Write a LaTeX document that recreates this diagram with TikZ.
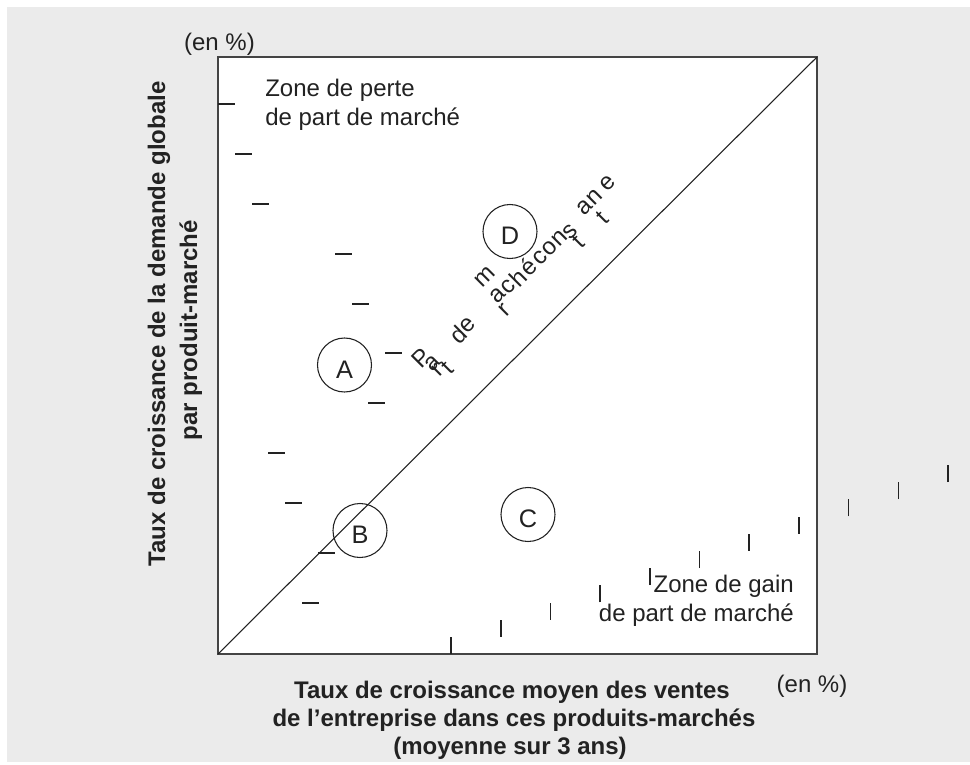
\documentclass[tikz,border=0pt]{standalone}
\usepackage{fontspec}
\setmainfont{Liberation Sans}
\definecolor{panel}{HTML}{EBEBEB}
\definecolor{ink}{HTML}{222222}
\definecolor{boxline}{HTML}{444444}
\begin{document}
\begin{tikzpicture}[x=0.75pt,y=-0.75pt,
  txt/.style={font=\fontsize{18}{21}\selectfont, text=ink, inner sep=0pt},
  boldtxt/.style={font=\fontsize{18}{21}\selectfont\bfseries, text=ink, inner sep=0pt},
  tickmark/.style={draw=ink, line width=1.2pt},
  letter/.style={txt, rotate=45, anchor=center},
  circ/.style={circle, draw=ink, line width=0.8pt, minimum size=40.5pt, inner sep=0pt,
    font=\fontsize{19}{21}\selectfont, text=ink, text height=20pt, text depth=0pt}]
\useasboundingbox (0,0) rectangle (970,764);
\fill[panel] (7,7) rectangle (970,762);
% frame
\coordinate (tl) at (218,57);
\coordinate (br) at (817,654);
\coordinate (bl) at (218,654);
\coordinate (tr) at (817,57);
\draw[fill=white, draw=boxline, line width=1.1pt] (tl) rectangle (br);
\draw[draw=ink, line width=0.8pt] (bl) -- (tr);
% horizontal dashes
\foreach \x/\y in {218/104,235/154,252/204,335/254,352/304,385/353,368/403,268/453,285/503,318/553,302/603}
  \draw[tickmark] (\x,\y) -- ++(17,0);
% vertical ticks
\foreach \k in {0,...,10}
  \draw[tickmark] ({451+49.7*\k},{654-17.2*\k}) -- ++(0,-17);
% circles
\node[circ] (A) at (344.5,365) {A};
\node[circ] (B) at (360,530.5) {B};
\node[circ] (C) at (528,514.5) {C};
\node[circ] (D) at (510,231.5) {D};
% zone labels
\node[txt, anchor=base west] (zp1) at (265,96.7) {Zone de perte};
\node[txt, anchor=base west] (zp2) at (265,125) {de part de marché};
\node[txt, anchor=base east] (zg1) at (794,592) {Zone de gain};
\node[txt, anchor=base east] (zg2) at (794,621) {de part de marché};
% units
\node[txt, anchor=base] (eny) at (219.5,50) {(en \%)};
\node[txt, anchor=base] (enx) at (812,692) {(en \%)};
% axis titles
\node[boldtxt, anchor=base] (xl1) at (512,698) {Taux de croissance moyen des ventes};
\node[boldtxt, anchor=base] (xl2) at (514,726) {de l’entreprise dans ces produits-marchés};
\node[boldtxt, anchor=base] (xl3) at (510,754) {(moyenne sur 3 ans)};
\node[boldtxt, rotate=90, anchor=base] (yl1) at (165,324) {Taux de croissance de la demande globale};
\node[boldtxt, rotate=90, anchor=base] (yl2) at (197,330) {par produit-marché};
% scattered diagonal text
\foreach \c/\x/\y [count=\i] in {P/421/358, a/433/363, r/438/370, t/447/368, d/458/335, e/468/325,
  m/485/277, a/498/295, r/505/310, c/508/287, h/518/278, é/528/267, c/540/258, o/550/248,
  n/560/238, s/570/232, t/578/242, a/585/207, n/595/197, t/602/218, e/608/183}
  \node[letter] (L\i) at (\x,\y) {\c};
\end{tikzpicture}
\end{document}
